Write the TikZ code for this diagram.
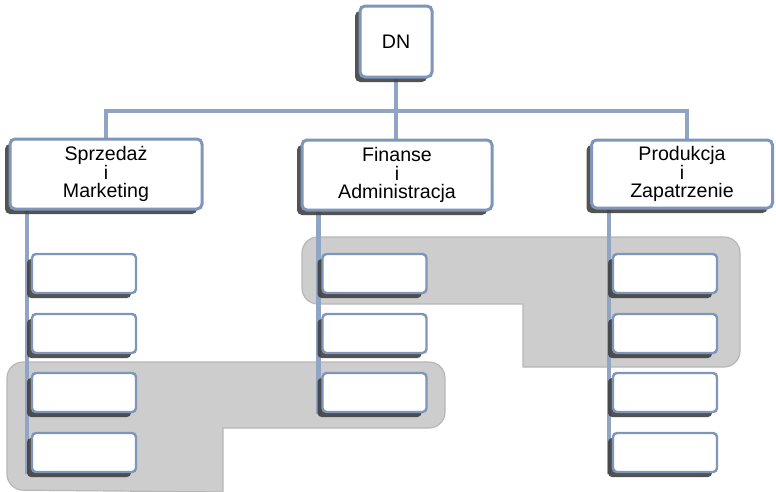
\documentclass[tikz,border=0pt]{standalone}
\usepackage{fontspec}
\setmainfont{Liberation Sans}
\usetikzlibrary{shadows,calc}

\definecolor{linkblue}{HTML}{8FA5C3}
\definecolor{frameblue}{HTML}{7D96B9}
\definecolor{zone}{HTML}{CDCDCD}
\definecolor{zoneedge}{HTML}{B7B7B7}
\definecolor{shade}{HTML}{404040}

\pgfdeclarelayer{zones}
\pgfdeclarelayer{links}
\pgfsetlayers{zones,links,main}

\tikzset{
  boxshadow/.style={general shadow={shadow xshift=-5pt, shadow yshift=-5pt,
      fill=shade, opacity=0.9}},
  unit/.style={draw=frameblue, line width=3pt, fill=white, rounded corners=5pt,
      boxshadow, align=center, inner sep=0pt,
      font=\fontsize{19.6}{18.6}\selectfont},
  subunit/.style={draw=frameblue, line width=2.4pt, fill=white, rounded corners=4pt,
      boxshadow, minimum width=104pt, minimum height=39pt, inner sep=0pt},
  link/.style={draw=linkblue, line width=4.5pt},
  group/.style={fill=zone, draw=zoneedge, line width=1.2pt},
}

\begin{document}
\begin{tikzpicture}[x=1pt,y=-1pt]
  \useasboundingbox (0,0) rectangle (776,491);

  % shaded groupings
  \begin{pgfonlayer}{zones}
  \path[group] (500,237) [rounded corners=16pt] -- (740,237) -- (740,367)
      [sharp corners] -- (523,367) -- (523,304) [rounded corners=16pt] -- (302,304)
      -- (302,237) -- cycle;
  \path[group] (200,362) [rounded corners=16pt] -- (445,362) -- (445,428)
      [sharp corners] -- (223,428) -- (223,492) [rounded corners=16pt] -- (7,490)
      -- (7,362) -- cycle;
  \end{pgfonlayer}

  % top level
  \node[unit, minimum width=72pt, minimum height=71pt] (dn) at (396,41.5) {DN};
  \node[unit, minimum width=192pt, minimum height=70pt] (sprz) at (106,174)
      {Sprzedaż\\i\\Marketing};
  \node[unit, minimum width=190pt, minimum height=70pt] (fin) at (397,175)
      {Finanse\\i\\Administracja};
  \node[unit, minimum width=181pt, minimum height=68pt] (prod) at (682,174)
      {Produkcja\\i\\Zapatrzenie};

  % sub units
  \foreach \i/\y in {1/273.5, 2/333.5, 3/392.5, 4/452.5} {
    \node[subunit] (s\i) at (84,\y) {};
    \node[subunit] (p\i) at (665,\y) {};
  }
  \foreach \i/\y in {1/273.5, 2/333.5, 3/392.5} {
    \node[subunit] (m\i) at (374.5,\y) {};
  }

  % connectors
  \coordinate (bus) at (396,111);
  \begin{pgfonlayer}{links}
  \draw[link] (dn.south) -- (dn.south |- fin.north);
  \draw[link] (sprz.north) |- (bus) -| ([xshift=5pt]prod.north);
  \draw[link] ($(sprz.south -| s1.west)+(-4,-1)$) -- ($(s4.south west)+(-4,1)$);
  \draw[link] ($(fin.south -| m1.west)+(-3,-1)$) -- ($(m3.south west)+(-3,1)$);
  \draw[link] ($(prod.south -| p1.west)+(-3,-1)$) -- ($(p4.south west)+(-3,1)$);
  \end{pgfonlayer}
\end{tikzpicture}
\end{document}
